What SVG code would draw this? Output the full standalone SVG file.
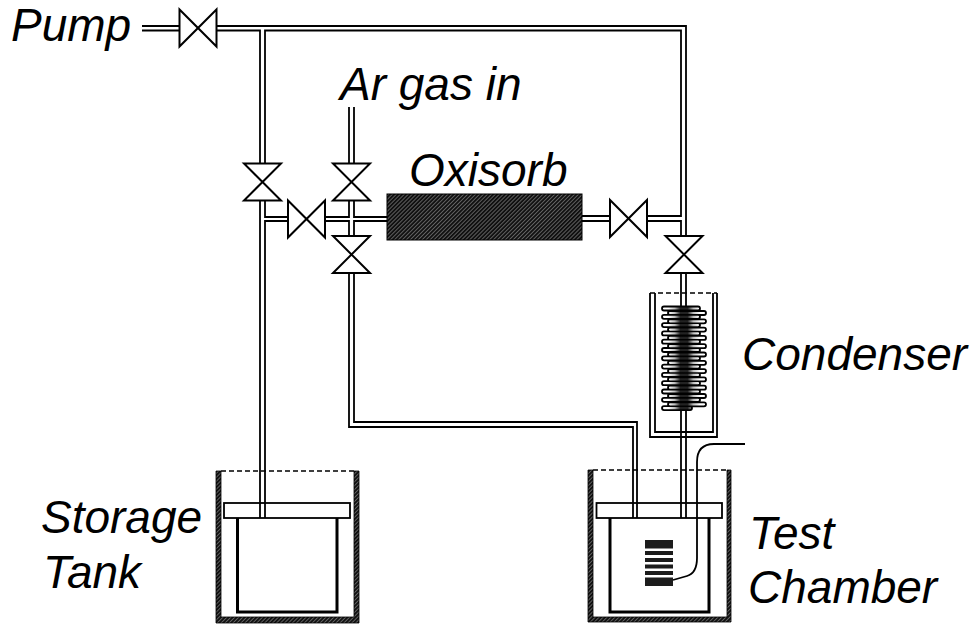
<svg xmlns="http://www.w3.org/2000/svg" width="973" height="625" viewBox="0 0 973 625">
<style>
.p{fill:none;stroke:#000;stroke-width:1.8}
.v{fill:#fff;stroke:#000;stroke-width:2;stroke-linejoin:miter}
.t{font-family:"Liberation Sans",Arial,sans-serif;font-style:italic;font-size:46px;fill:#000}
.w{fill:url(#h)}
.d{fill:none;stroke:#000;stroke-width:1.6;stroke-dasharray:5 3}
.o{fill:none;stroke:#000;stroke-width:3}
.f{fill:none;stroke:#000;stroke-width:1.8}
.c{fill:none;stroke-linecap:round}
</style>
<defs>
<pattern id="h" width="2.800" height="2.800" patternUnits="userSpaceOnUse" patternTransform="rotate(45)">
<rect width="2.800" height="2.800" fill="#111"/><rect width="0.900" height="2.800" fill="#666"/>
</pattern>
<linearGradient id="g" gradientUnits="userSpaceOnUse" x1="661" y1="0" x2="707" y2="0">
<stop offset="0.16" stop-color="#fff"/><stop offset="0.3" stop-color="#bbb"/><stop offset="0.42" stop-color="#222"/><stop offset="0.58" stop-color="#222"/><stop offset="0.7" stop-color="#bbb"/><stop offset="0.84" stop-color="#fff"/>
</linearGradient>
<path id="fr" d="M664 308.500H698M664 316.800H698M664 325.100H698M664 333.400H698M664 341.700H698M664 350H698M664 358.300H698M664 366.600H698M664 374.900H698M664 383.200H698M664 391.500H698M664 399.800H698M664 408.100H690M670 313H704M670 321.300H704M670 329.600H704M670 337.900H704M670 346.200H704M670 354.500H704M670 362.800H704M670 371.100H704M670 379.400H704M670 387.700H704M670 396H704M670 404.300H704"/>
<path id="vh" d="M-18.500-18.500V18.500L18.500-18.500V18.500Z" class="v"/>
<path id="vv" d="M-18.500-18.500H18.500L-18.500 18.500H18.500Z" class="v"/>
</defs>
<g id="connectors">
<path class="p" d="M142 26H180M142 30.500H180M216 26H686V236M216 30.500H260V163M265 163V30.500H681V216H647M647 221H681V236"/>
<path class="p" d="M260 201V518M265 201V217H288M288 221H265V518"/>
<path class="p" d="M349 107V163M354 107V163"/>
<path class="p" d="M325 217H349V201M354 201V217H387M325 221H349V236M354 236V221H387"/>
<path class="p" d="M349 273V427H633V518M354 273V422H637V518"/>
<path class="p" d="M582 216H610M582 221H610"/>
<path class="p" d="M681 273V306M686 273V309M681 409V518M686 410V518"/>
<path class="p" d="M745 444H714Q697 444 697 462V558Q697 573 687 576L673 580"/>
</g>
<g id="pump-valve"><use href="#vh" x="198" y="28"/></g>
<g id="tank-valve"><use href="#vv" x="262.500" y="182"/></g>
<g id="cross-valve"><use href="#vh" x="306.500" y="219"/></g>
<g id="ar-valve"><use href="#vv" x="351.500" y="182"/></g>
<g id="chamber-valve"><use href="#vv" x="351.500" y="254.500"/></g>
<g id="oxisorb-valve"><use href="#vh" x="628.500" y="218.500"/></g>
<g id="condenser-valve"><use href="#vv" x="684" y="254.500"/></g>
<g id="oxisorb"><rect x="387" y="194" width="195" height="46" fill="url(#h)" stroke="#000" stroke-width="1"/></g>
<g id="condenser">
<path fill="none" stroke="#000" stroke-width="1.800" d="M650 293V437H717V293M655 293V432H713V293"/>
<path class="d" d="M650 293H717"/>
<use href="#fr" class="c" stroke="#000" stroke-width="5.800"/>
<use href="#fr" class="c" stroke="url(#g)" stroke-width="2.200"/>
</g>
<g id="storage-tank">
<path class="w" d="M216 471H221V617H354V471H359V623H216Z" stroke="#000" stroke-width=".8"/>
<path class="d" d="M221 471H354"/>
<path class="o" d="M237.500 518V612H337V518"/>
<rect x="224" y="503" width="126" height="15" class="f"/>
</g>
<g id="test-chamber">
<path class="w" d="M588 470H593V617H727V470H731V622H588Z" stroke="#000" stroke-width=".8"/>
<path class="d" d="M593 470H727"/>
<path class="o" d="M610 518V612H709V518"/>
<rect x="596.500" y="503" width="125.500" height="15" class="f"/>
</g>
<g id="sample" fill="#1c1c1c">
<rect x="645" y="540" width="28" height="8.500"/>
<rect x="645" y="551" width="28" height="4"/>
<rect x="645" y="558" width="28" height="4"/>
<rect x="645" y="564.500" width="28" height="4"/>
<rect x="645" y="571" width="28" height="4"/>
<rect x="645" y="577.500" width="28" height="8.500"/>
</g>
<g id="labels">
<text class="t" x="11" y="41">Pump</text>
<text class="t" x="340" y="100">Ar gas in</text>
<text class="t" x="409" y="186">Oxisorb</text>
<text class="t" x="742" y="370">Condenser</text>
<text class="t" x="41" y="533">Storage</text>
<text class="t" x="43" y="588">Tank</text>
<text class="t" x="749" y="549">Test</text>
<text class="t" x="748" y="603">Chamber</text>
</g>
</svg>
